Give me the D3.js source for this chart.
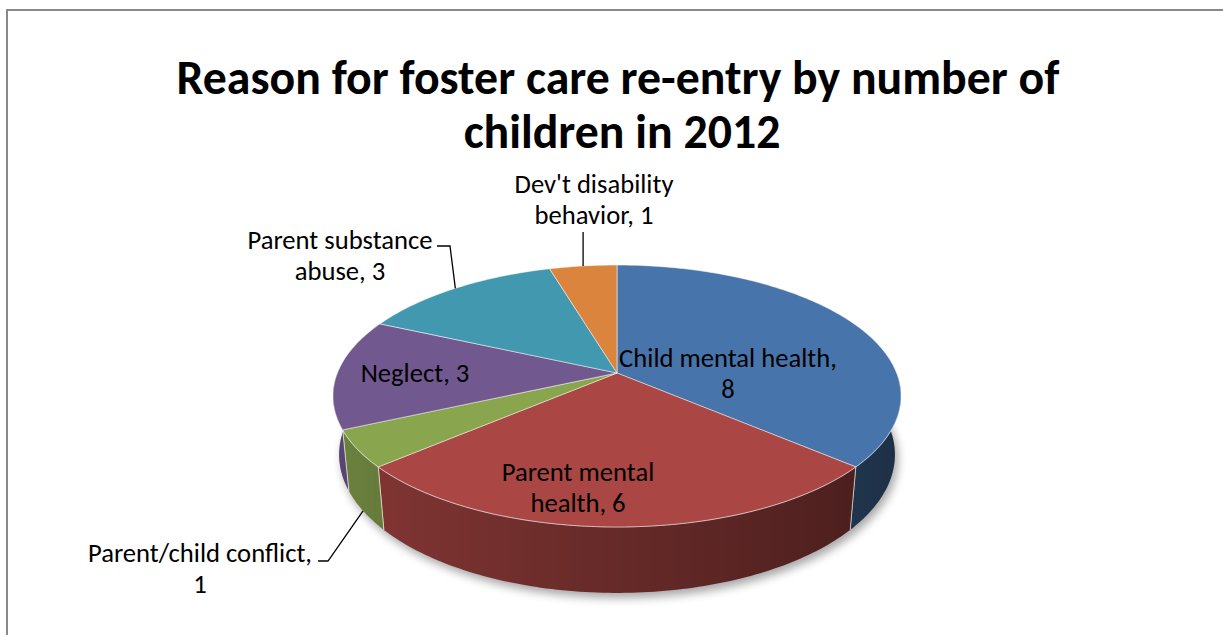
<!DOCTYPE html>
<html><head><meta charset="utf-8">
<script src="https://cdn.jsdelivr.net/npm/d3@7"></script>
<style>html,body{margin:0;padding:0;background:#fff;overflow:hidden}svg{display:block}</style>
</head><body>
<svg id="chart" width="1223" height="635"></svg>
<script>
// ---- data ----
const categories = ["Child mental health", "Parent mental health", "Parent/child conflict", "Neglect", "Parent substance abuse", "Dev't disability behavior"];
const values = [8, 6, 1, 3, 3, 1];
const titleLines = ["Reason for foster care re-entry by number of", "children in 2012"];

// ---- styles / layout ----
const colors = ["#4774AA", "#AA4643", "#89A54E", "#71588F", "#4198AF", "#DB843D"];
const firstLineWords = [3, 2, 2, 2, 2, 2];
const labelPos = [[728, 367], [578, 481], [200, 562], [415, 382], [340, 249], [594, 193]];
const leaders = [null, null, {bottom: true, elbow: [[318, 561], [328, 561]]}, null,
                 {bottom: false, elbow: [[437, 246], [450, 246]]}, {bottom: false, elbow: [[null, 232]]}];
const lineGap = 31;

const svg = d3.select("#chart");
const FONT = "Carlito, Calibri, Lato, 'Open Sans', sans-serif";

// frame
svg.append("rect").attr("x", 7).attr("y", 10).attr("width", 1300).attr("height", 700)
  .attr("fill", "#fff").attr("stroke", "#898989").attr("stroke-width", 2);

// ---- perspective projection ----
const tilt = Math.asin(0.454), ca = Math.cos(tilt), sa = Math.sin(tilt);
const Dcam = 5.074, focal = 1418.7, cx = 617, cy = 373, depthH = 0.237;
function proj(X, Y, Z) {
  const vy = Y + Dcam * ca, vz = Z - Dcam * sa;
  const dep = vy * ca - vz * sa, w = vy * sa + vz * ca;
  return [cx + focal * X / dep, cy - focal * w / dep];
}
const rim = (t, z) => proj(Math.sin(t), Math.cos(t), z);

const pie = d3.pie().sort(null).value(d => d).startAngle(0).endAngle(2 * Math.PI);
const arcs = pie(values);
const shade = d3.scaleLinear().domain([-1, 1]).range([0.8, 0.4]);

const defs = svg.append("defs");
defs.append("filter").attr("id", "blur").attr("x", "-20%").attr("y", "-20%").attr("width", "140%").attr("height", "140%")
  .append("feGaussianBlur").attr("stdDeviation", 5);

// shadow
const shadowPts = d3.range(0, 361, 2).map(d => { const p = rim(d * Math.PI / 180, -depthH); return [p[0] + 3, p[1] + 5]; });
svg.append("path").attr("d", d3.line()(shadowPts) + "Z").attr("fill", "#000").attr("opacity", 0.35).attr("filter", "url(#blur)");

// sides (one path per slice, horizontal gradient for lighting)
const gSide = svg.append("g");
arcs.forEach((a, i) => {
  const s = Math.max(a.startAngle, Math.PI / 2), e = Math.min(a.endAngle, 3 * Math.PI / 2);
  if (e <= s) return;
  const n = Math.max(4, Math.ceil((e - s) / (Math.PI / 180)));
  const ts = d3.range(n + 1).map(k => s + (e - s) * k / n);
  const topPts = ts.map(t => rim(t, 0));
  const botPts = ts.map(t => rim(t, -depthH)).reverse();
  const xs = topPts.map(p => p[0]).concat(botPts.map(p => p[0]));
  const x1 = d3.min(xs), x2 = d3.max(xs);
  const base = d3.rgb(colors[i]);
  const gid = "side" + i;
  const grad = defs.append("linearGradient").attr("id", gid).attr("gradientUnits", "userSpaceOnUse")
    .attr("x1", x1).attr("x2", x2).attr("y1", 0).attr("y2", 0);
  const stops = ts.map((t, k) => {
    const f = shade(Math.sin(t));
    return {o: (topPts[k][0] - x1) / (x2 - x1), c: d3.rgb(base.r * f, base.g * f, base.b * f).formatHex()};
  }).sort((p, q) => p.o - q.o);
  stops.forEach(st => grad.append("stop").attr("offset", Math.max(0, Math.min(1, st.o))).attr("stop-color", st.c));
  gSide.append("path").attr("d", d3.line()(topPts.concat(botPts)) + "Z").attr("fill", `url(#${gid})`);
  [a.startAngle, a.endAngle].forEach(t => {
    if (t > Math.PI / 2 + 0.05 && t < 3 * Math.PI / 2 - 0.05) {
      gSide.append("path").attr("d", d3.line()([rim(t, 0), rim(t, -depthH)]))
        .attr("stroke", "#fff").attr("stroke-opacity", 0.55).attr("stroke-width", 1);
    }
  });
});
// rim highlight on side top edge
svg.append("path").attr("d", d3.line()(d3.range(90, 271, 2).map(d => rim(d * Math.PI / 180, 0))))
  .attr("fill", "none").attr("stroke", "#fff").attr("stroke-opacity", 0.35).attr("stroke-width", 1.2);

// top faces
const gTop = svg.append("g");
arcs.forEach((a, i) => {
  const n = Math.max(4, Math.ceil((a.endAngle - a.startAngle) / (Math.PI / 180)));
  const pts = [proj(0, 0, 0)].concat(d3.range(n + 1).map(k => rim(a.startAngle + (a.endAngle - a.startAngle) * k / n, 0)));
  gTop.append("path").attr("d", d3.line()(pts) + "Z").attr("fill", colors[i])
    .attr("stroke", "#ffffff").attr("stroke-opacity", 0.5).attr("stroke-width", 1).attr("stroke-linejoin", "round");
});

// ---- title ----
const title = svg.append("g").attr("font-family", FONT).attr("font-weight", "bold").attr("fill", "#000").attr("text-anchor", "middle");
const t1 = title.append("text").attr("x", 618).attr("y", 94).attr("font-size", 40).text(titleLines[0]);
const tw = t1.node().getComputedTextLength();
const tSize = 40 * 883 / tw;
t1.attr("font-size", tSize);
title.append("text").attr("x", 622).attr("y", 148).attr("font-size", tSize).text(titleLines[1]);

// ---- labels ----
const lab = svg.append("g").attr("font-family", FONT).attr("fill", "#000").attr("text-anchor", "middle");
const probe = lab.append("text").attr("font-size", 20).text("Child mental health,");
const lSize = 20 * 218 / probe.node().getComputedTextLength();
probe.remove();
arcs.forEach((a, i) => {
  const words = (categories[i] + ", " + values[i]).split(" ");
  const lines = [words.slice(0, firstLineWords[i]).join(" "), words.slice(firstLineWords[i]).join(" ")].filter(s => s.length);
  lines.forEach((ln, j) => {
    lab.append("text").attr("x", labelPos[i][0]).attr("y", labelPos[i][1] + j * lineGap).attr("font-size", lSize).text(ln);
  });
  const L = leaders[i];
  if (L) {
    const mid = (a.startAngle + a.endAngle) / 2;
    const anchor = rim(mid, L.bottom ? -depthH : 0);
    const pts = L.elbow.map(p => [p[0] === null ? anchor[0] : p[0], p[1]]);
    pts.push(anchor);
    svg.append("path").attr("d", d3.line()(pts)).attr("fill", "none").attr("stroke", "#000").attr("stroke-width", 1.3);
  }
});
</script>
</body></html>
